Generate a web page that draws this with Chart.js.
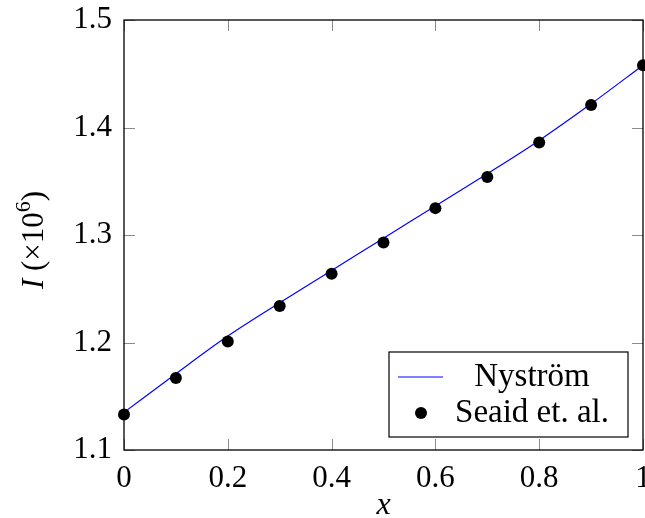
<!DOCTYPE html>
<html>
<head>
<meta charset="utf-8">
<script src="https://cdn.jsdelivr.net/npm/chart.js@4/dist/chart.umd.min.js"></script>
<style>
  html, body { margin: 0; padding: 0; background: #fff; overflow: hidden; }
</style>
</head>
<body>
<canvas id="chart" width="649" height="518"></canvas>
<script>
const xValues = [0, 0.1, 0.2, 0.3, 0.4, 0.5, 0.6, 0.7, 0.8, 0.9, 1];
const nystromValues = [1.135, 1.171, 1.206, 1.237, 1.267, 1.297, 1.327, 1.357, 1.388, 1.422, 1.458];
const seaidValues = [1.133, 1.167, 1.201, 1.234, 1.264, 1.293, 1.325, 1.354, 1.386, 1.421, 1.458];
const xTicks = [0, 0.2, 0.4, 0.6, 0.8, 1];
const yTicks = [1.1, 1.2, 1.3, 1.4, 1.5];

const serif = "'Liberation Serif', 'Times New Roman', serif";

function toPoints(values) {
  return xValues.map((x, i) => ({ x: x, y: values[i] }));
}

// frame + inward ticks on all four sides (pgfplots style)
const frameTicks = {
  id: 'frameTicks',
  beforeDatasetsDraw(chart) {
    const ctx = chart.ctx, a = chart.chartArea;
    const xs = chart.scales.x, ys = chart.scales.y;
    const len = 11;
    ctx.save();
    ctx.strokeStyle = '#8c8c8c';
    ctx.lineWidth = 1;
    ctx.beginPath();
    xTicks.forEach(v => {
      const px = Math.round(xs.getPixelForValue(v)) + 0.5;
      ctx.moveTo(px, a.top); ctx.lineTo(px, a.top + len);
      ctx.moveTo(px, a.bottom); ctx.lineTo(px, a.bottom - len);
    });
    yTicks.forEach(v => {
      const py = Math.round(ys.getPixelForValue(v)) + 0.5;
      ctx.moveTo(a.left, py); ctx.lineTo(a.left + len, py);
      ctx.moveTo(a.right, py); ctx.lineTo(a.right - len, py);
    });
    ctx.stroke();
    ctx.strokeStyle = '#000';
    ctx.lineWidth = 1.3;
    ctx.strokeRect(a.left, a.top, a.right - a.left, a.bottom - a.top);
    ctx.restore();
  }
};

const legendBox = {
  id: 'legendBox',
  afterDatasetsDraw(chart) {
    const ctx = chart.ctx, a = chart.chartArea;
    const w = 239, h = 85;
    const x0 = a.right - 15 - w, y0 = a.bottom - 13 - h;
    const ds = chart.data.datasets;
    ctx.save();
    ctx.fillStyle = '#fff';
    ctx.fillRect(x0, y0, w, h);
    ctx.strokeStyle = '#000';
    ctx.lineWidth = 1.2;
    ctx.strokeRect(x0, y0, w, h);

    ctx.strokeStyle = ds[0].borderColor;
    ctx.lineWidth = 1.2;
    ctx.beginPath();
    ctx.moveTo(x0 + 9, y0 + 25);
    ctx.lineTo(x0 + 54, y0 + 25);
    ctx.stroke();

    ctx.fillStyle = '#000';
    ctx.beginPath();
    ctx.arc(x0 + 32, y0 + 61, 6, 0, Math.PI * 2);
    ctx.fill();

    ctx.font = '33px ' + serif;
    ctx.textAlign = 'center';
    ctx.textBaseline = 'alphabetic';
    ctx.fillText(ds[0].label, x0 + 143, y0 + 34);
    ctx.fillText(ds[1].label, x0 + 143, y0 + 70);
    ctx.restore();
  }
};

const axisLabels = {
  id: 'axisLabels',
  afterDraw(chart) {
    const ctx = chart.ctx, a = chart.chartArea;
    ctx.save();
    ctx.fillStyle = '#000';
    ctx.textBaseline = 'alphabetic';

    // x label
    ctx.font = 'italic 32px ' + serif;
    ctx.textAlign = 'center';
    ctx.fillText('x', (a.left + a.right) / 2, 514);

    // y label: I (×10^6)
    const parts = [
      { t: 'I', f: 'italic 31px ' + serif, dy: 0 },
      { t: ' (×10', f: '31px ' + serif, dy: 0 },
      { t: '6', f: '22px ' + serif, dy: -13 },
      { t: ')', f: '31px ' + serif, dy: 0 }
    ];
    let total = 0;
    parts.forEach(p => { ctx.font = p.f; p.w = ctx.measureText(p.t).width; total += p.w; });
    ctx.translate(43, (a.top + a.bottom) / 2 + 5);
    ctx.rotate(-Math.PI / 2);
    ctx.textAlign = 'left';
    let cx = -total / 2;
    parts.forEach(p => {
      ctx.font = p.f;
      ctx.fillText(p.t, cx, p.dy);
      cx += p.w;
    });
    ctx.restore();
  }
};

new Chart(document.getElementById('chart'), {
  type: 'scatter',
  data: {
    datasets: [
      {
        label: 'Nyström',
        type: 'line',
        data: toPoints(nystromValues),
        borderColor: '#0000ff',
        borderWidth: 1.2,
        pointRadius: 0,
        cubicInterpolationMode: 'monotone',
        fill: false,
        clip: false,
        order: 1
      },
      {
        label: 'Seaid et. al.',
        data: toPoints(seaidValues),
        backgroundColor: '#000',
        borderColor: '#000',
        pointRadius: 6,
        pointBorderWidth: 0,
        clip: false,
        order: 0
      }
    ]
  },
  options: {
    responsive: false,
    animation: false,
    devicePixelRatio: 1,
    layout: { padding: { left: 0, right: 0, top: 20, bottom: 0 } },
    plugins: {
      legend: { display: false },
      tooltip: { enabled: false }
    },
    scales: {
      x: {
        type: 'linear',
        min: 0,
        max: 1,
        afterBuildTicks: s => { s.ticks = xTicks.map(v => ({ value: v })); },
        afterFit: s => { s.height = 68; s.paddingLeft = 0; s.paddingRight = 0; },
        grid: { display: false, drawTicks: false },
        border: { display: false },
        ticks: {
          padding: 10,
          color: '#000',
          font: { family: serif, size: 31 },
          maxRotation: 0,
          autoSkip: false,
          callback: v => String(Math.round(v * 10) / 10)
        }
      },
      y: {
        type: 'linear',
        min: 1.1,
        max: 1.5,
        afterBuildTicks: s => { s.ticks = yTicks.map(v => ({ value: v })); },
        afterFit: s => { s.width = 124; s.paddingTop = 0; s.paddingBottom = 0; },
        grid: { display: false, drawTicks: false },
        border: { display: false },
        ticks: {
          padding: 12,
          color: '#000',
          font: { family: serif, size: 31 },
          autoSkip: false,
          callback: v => v.toFixed(1)
        }
      }
    }
  },
  plugins: [frameTicks, legendBox, axisLabels]
});
</script>
</body>
</html>
